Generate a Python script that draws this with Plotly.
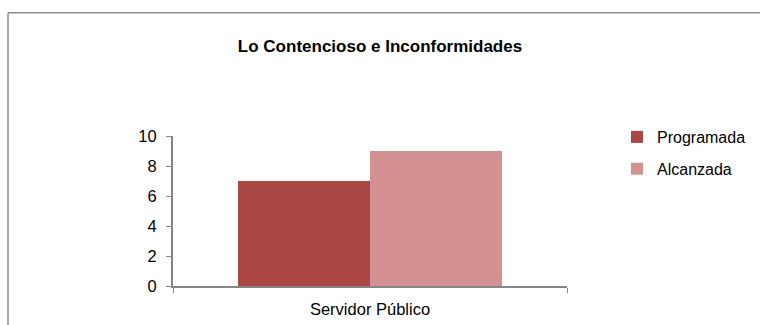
import plotly.graph_objects as go

categories = ["Servidor Público"]
programada = [7]
alcanzada = [9]
series_names = ["Programada", "Alcanzada"]
y_ticks = [0, 2, 4, 6, 8, 10]

W, H = 760, 325
# plot area in pixels
L, R, T, B = 173, 567, 135.7, 285.7

fig = go.Figure()
fig.add_trace(go.Bar(x=categories, y=programada, name=series_names[0],
                     legendgroup="g0",
                     marker=dict(color="#AA4745", line=dict(width=0))))
fig.add_trace(go.Bar(x=categories, y=alcanzada, name=series_names[1],
                     legendgroup="g1",
                     marker=dict(color="#D39191", line=dict(width=0))))

axis_grey = "#868686"
frame_grey = "#8C8C8C"

def px_x(p):
    return (p - L) / (R - L)

def px_y(p):
    return (B - p) / (B - T)

# outer chart frame: left and top edges
fig.add_shape(type="line", xref="paper", yref="paper",
              x0=px_x(8), x1=px_x(8), y0=px_y(12.5), y1=px_y(340),
              line=dict(color=frame_grey, width=1.5))
fig.add_shape(type="line", xref="paper", yref="paper",
              x0=px_x(8), x1=px_x(780), y0=px_y(12.5), y1=px_y(12.5),
              line=dict(color=frame_grey, width=1.5))

fig.update_layout(
    width=W, height=H,
    margin=dict(l=L, r=W - R, t=T, b=H - B, pad=0, autoexpand=False),
    paper_bgcolor="white", plot_bgcolor="white",
    barmode="group", bargap=0.33, bargroupgap=0,
    font=dict(family="Liberation Sans, Arial, sans-serif", size=16, color="#000000"),
    title=dict(text="<b>Lo Contencioso e Inconformidades</b>",
               x=px_x(380), xref="paper", xanchor="center",
               y=1 - 46 / H, yref="container", yanchor="middle",
               font=dict(size=17, family="Liberation Sans, Arial")),
    legend=dict(x=617 / W, xref="container", xanchor="left",
                y=1 - 120 / H, yref="container", yanchor="top",
                font=dict(size=16), tracegroupgap=8, traceorder="grouped",
                bgcolor="rgba(0,0,0,0)"),
    showlegend=True,
)
fig.update_yaxes(range=[0, 10], tickvals=y_ticks, ticks="outside", ticklen=5,
                 tickcolor=axis_grey, showline=True, linecolor=axis_grey,
                 linewidth=2, showgrid=False, zeroline=False, automargin=False,
                 ticklabelstandoff=6, tickfont=dict(size=16.5))
fig.update_xaxes(ticks="outside", tickson="boundaries", ticklen=5,
                 tickcolor=axis_grey, showline=True, linecolor=axis_grey,
                 linewidth=2, showgrid=False, ticklabelstandoff=7, automargin=False,
                 tickfont=dict(size=16.5))

fig.write_html("out.html")
